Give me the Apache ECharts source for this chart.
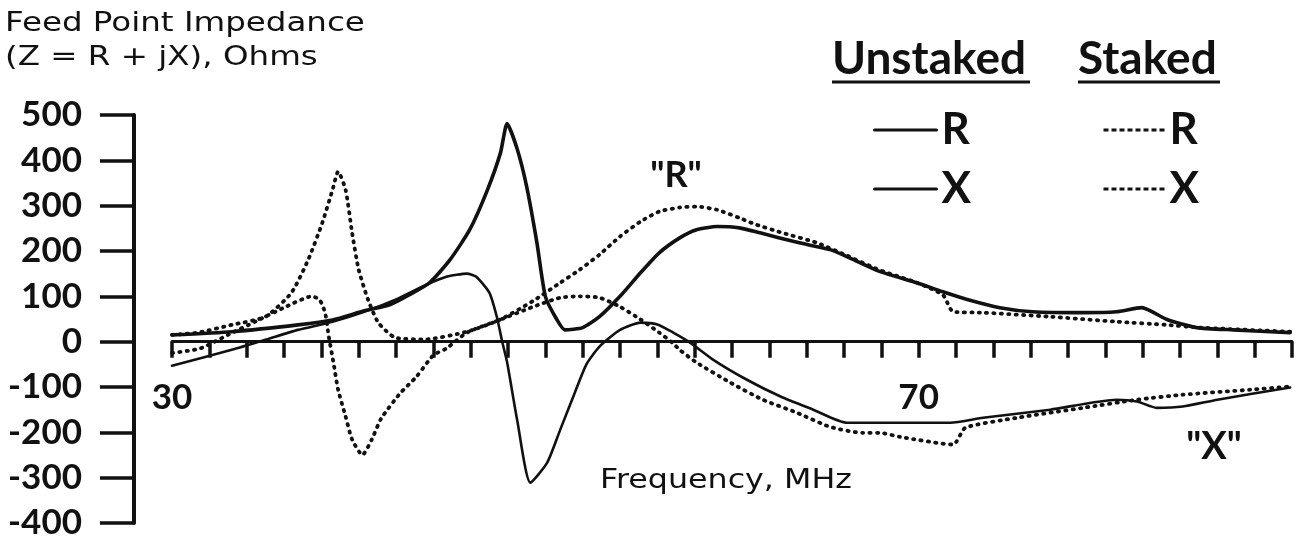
<!DOCTYPE html>
<html>
<head>
<meta charset="utf-8">
<script src="https://cdn.jsdelivr.net/npm/echarts@6/dist/echarts.min.js"></script>
<style>
  html, body { margin: 0; padding: 0; background: #fff; }
  #chart { width: 1306px; height: 546px; }
</style>
</head>
<body>
<div id="chart"></div>
<script>
// Feed point impedance Z = R + jX of the antenna, unstaked vs staked, 30-90 MHz.
// Each point is [frequency in MHz, ohms].
const unstakedR = [
  [30.0, 15], [33.2, 22], [36.75, 37], [38.6, 48], [40.3, 68], [41.7, 82],
  [42.75, 104], [43.8, 130], [44.9, 181], [45.95, 247], [46.9, 335], [47.6, 417],
  [47.95, 481], [48.5, 424], [49.0, 342], [49.55, 218], [50.0, 100], [50.6, 50],
  [51.05, 26], [52.0, 31], [52.9, 55], [54.0, 100], [55.1, 152], [56.1, 196],
  [57.2, 229], [58.1, 247], [59.2, 254], [60.4, 251], [61.5, 240], [63.6, 218],
  [65.25, 203], [66.3, 185], [67.9, 155], [69.9, 130], [71.3, 110], [72.6, 93],
  [74.35, 75], [76.1, 66], [78.8, 64], [80.6, 66], [81.95, 75], [83.3, 49],
  [84.9, 31], [86.85, 26], [89.9, 20]
];
const unstakedX = [
  [30.0, -53], [33.2, -18], [35.0, 4], [36.75, 26], [38.6, 44], [40.3, 66],
  [42.1, 95], [43.55, 124], [44.7, 143], [45.8, 150], [46.3, 143], [47.0, 108],
  [47.4, 55], [47.7, -2], [47.95, -45], [48.5, -175], [49.2, -311], [50.1, -267],
  [50.8, -194], [51.5, -121], [52.2, -50], [52.9, -11], [54.0, 26], [55.1, 42],
  [56.0, 38], [56.85, 20], [57.75, -2], [59.0, -40], [60.8, -84], [62.6, -121],
  [64.35, -150], [66.15, -179], [67.9, -179], [71.7, -179], [73.45, -168],
  [77.05, -150], [80.6, -128], [81.7, -132], [82.75, -146], [84.15, -143],
  [86.0, -128], [89.9, -101]
];
const stakedR = [
  [30.0, 15], [31.4, 20], [33.2, 37], [35.0, 55], [36.4, 108], [37.3, 181],
  [38.05, 262], [38.6, 335], [38.9, 375], [39.3, 335], [39.65, 240], [40.0, 159],
  [40.5, 93], [41.05, 42], [41.95, 9], [43.55, 5], [45.8, 22], [47.55, 48],
  [49.35, 90], [50.8, 130], [51.85, 159], [52.9, 192], [54.0, 232], [55.1, 265],
  [56.1, 287], [57.2, 296], [58.1, 298], [59.2, 291], [60.4, 273], [61.3, 258],
  [62.7, 240], [64.55, 218], [66.15, 190], [67.9, 158], [69.9, 130], [71.3, 103],
  [71.85, 66], [73.45, 64], [77.05, 55], [80.6, 44], [83.3, 37], [85.05, 31],
  [89.9, 22]
];
const stakedX = [
  [30.0, -25], [31.5, -15], [33.0, 15], [34.5, 45], [36.0, 75], [37.5, 100],
  [37.9, 93], [38.2, 64], [38.4, 11], [38.65, -46], [38.9, -106], [39.3, -165],
  [39.65, -216], [40.2, -250], [40.7, -216], [41.2, -170], [42.2, -115],
  [43.1, -77], [44.0, -30], [44.7, -15], [45.8, 20], [47.55, 48], [49.35, 77],
  [50.8, 97], [51.85, 100], [52.9, 97], [54.0, 77], [55.1, 49], [56.1, 20],
  [56.8, -2], [57.2, -18], [58.1, -46], [59.9, -90], [61.65, -128], [63.5, -157],
  [65.25, -188], [67.0, -201], [67.9, -201], [69.0, -210], [71.85, -227],
  [72.5, -190], [75.25, -168], [78.8, -146], [81.7, -128], [84.15, -117],
  [87.75, -106], [89.9, -99]
];

// Axis ranges and the frequency ticks that carry a label
const freqMin = 30, freqMax = 90, freqStep = 2;
const labelledFreqs = [30, 70];
const ohmMin = -400, ohmMax = 500, ohmStep = 100;

const INK = '#111';
const boldFont = 'Lato, "Open Sans", sans-serif';
const plainFont = '"DejaVu Sans", sans-serif';

// plot area edges, in pixels
const GRID = { left: 172, right: 14, top: 115, bottom: 23 };
const CHART_H = 546;
// the frequency axis sits on the 0 Ω line
const zeroY = GRID.top + (ohmMax / (ohmMax - ohmMin)) * (CHART_H - GRID.top - GRID.bottom);
const freqLabelOffset = -((CHART_H - GRID.bottom) - zeroY);

const solid = (width) => ({ color: INK, width: width, type: 'solid', cap: 'round', join: 'round' });
const dotted = { color: INK, width: 3.8, type: [1.2, 6.2], cap: 'round', join: 'round' };

function lineSeries(name, data, lineStyle) {
  return {
    name: name, type: 'line', data: data,
    smooth: 0.2, showSymbol: false, symbol: 'none',
    lineStyle: lineStyle, itemStyle: { color: INK },
    emphasis: { disabled: true }, silent: true, animation: false
  };
}

const legendText = {
  fontFamily: boldFont, fontWeight: 'bold', fontSize: 44, lineHeight: 40, color: INK
};
function legendBlock(names, left, iconWidth, iconLine) {
  return {
    data: names, left: left, top: 108, orient: 'vertical', padding: 0,
    itemWidth: iconWidth, itemHeight: 14, itemGap: 15, selectedMode: false,
    formatter: (n) => n.split(' ')[1], textStyle: legendText,
    itemStyle: { opacity: 0 }, lineStyle: iconLine
  };
}

function textEl(text, x, y, size, opts) {
  const o = opts || {};
  return {
    type: 'text', x: x, y: y, scaleX: o.scaleX || 1, silent: true,
    style: {
      text: text, fontFamily: o.family || boldFont, fontWeight: o.weight || 'bold',
      fontSize: size, fill: INK,
      align: o.align || 'left', verticalAlign: 'middle',
      textAlign: o.align || 'left', textVerticalAlign: 'middle'
    }
  };
}

const chart = echarts.init(document.getElementById('chart'), null, { renderer: 'canvas' });
chart.setOption({
  animation: false,
  backgroundColor: '#fff',
  grid: Object.assign({ containLabel: false, outerBoundsMode: 'none' }, GRID),
  xAxis: [
    {
      // axis line and ticks on the zero line
      type: 'value', min: freqMin, max: freqMax, interval: freqStep,
      axisLine: { onZero: true, lineStyle: { color: INK, width: 3 } },
      axisTick: { show: true, inside: false, length: 16, lineStyle: { color: INK, width: 3.5 } },
      splitLine: { show: false },
      axisLabel: { show: false }
    },
    {
      // frequency labels under the zero line
      type: 'value', min: freqMin, max: freqMax, interval: freqStep,
      position: 'bottom', offset: freqLabelOffset,
      axisLine: { show: false, onZero: false },
      axisTick: { show: false },
      splitLine: { show: false },
      axisLabel: {
        margin: 56, verticalAlign: 'middle', showMinLabel: true, showMaxLabel: true,
        fontFamily: boldFont, fontWeight: 'bold', fontSize: 35, color: INK,
        formatter: (v) => labelledFreqs.includes(v) ? String(v) : ''
      }
    }
  ],
  yAxis: {
    type: 'value', min: ohmMin, max: ohmMax, interval: ohmStep,
    position: 'left', offset: 38,
    axisLine: { show: true, onZero: false, lineStyle: { color: INK, width: 4 } },
    axisTick: { show: true, inside: false, length: 34, lineStyle: { color: INK, width: 3.5 } },
    splitLine: { show: false },
    axisLabel: {
      margin: 52, align: 'right', verticalAlign: 'middle',
      fontFamily: boldFont, fontWeight: 'bold', fontSize: 35, color: INK
    }
  },
  legend: [
    legendBlock(['Unstaked R', 'Unstaked X'], 873, 62, { width: 3, type: 'solid' }),
    legendBlock(['Staked R', 'Staked X'], 1102, 61, { width: 3, type: [5, 3], cap: 'butt' })
  ],
  series: [
    lineSeries('Unstaked R', unstakedR, solid(3.6)),
    lineSeries('Unstaked X', unstakedX, solid(2.6)),
    lineSeries('Staked R', stakedR, dotted),
    lineSeries('Staked X', stakedX, dotted)
  ],
  graphic: [
    textEl('Feed Point Impedance', 5, 24, 26, { family: plainFont, weight: 'normal', scaleX: 1.25 }),
    textEl('(Z = R + jX), Ohms', 5, 58, 26, { family: plainFont, weight: 'normal', scaleX: 1.25 }),
    textEl('Frequency, MHz', 600, 481, 26, { family: plainFont, weight: 'normal', scaleX: 1.22 }),
    textEl('Unstaked', 832, 59, 46),
    { type: 'line', silent: true, shape: { x1: 832, y1: 82, x2: 1030, y2: 82 },
      style: { stroke: INK, lineWidth: 3 } },
    textEl('Staked', 1078, 59, 46),
    { type: 'line', silent: true, shape: { x1: 1078, y1: 82, x2: 1220, y2: 82 },
      style: { stroke: INK, lineWidth: 3 } },
    textEl('"R"', 676, 175, 36, { align: 'center' }),
    textEl('"X"', 1214, 447, 38, { align: 'center' })
  ]
});
</script>
</body>
</html>
